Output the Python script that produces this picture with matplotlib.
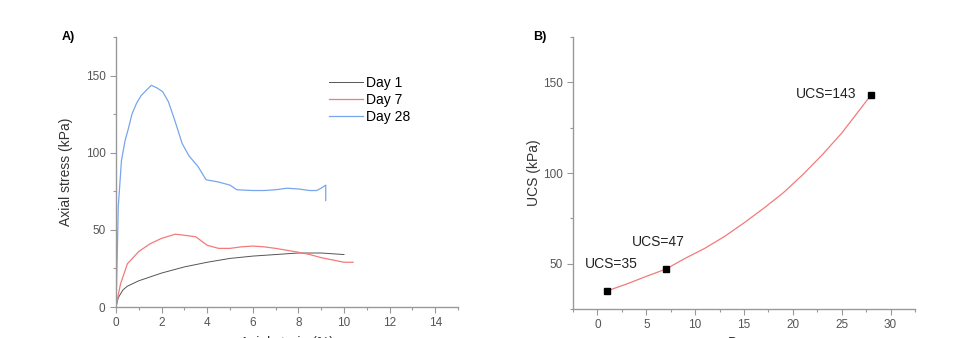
import matplotlib
matplotlib.use("Agg")
import matplotlib.pyplot as plt
from matplotlib.ticker import MultipleLocator

plt.rcParams["font.family"] = ["Liberation Sans", "DejaVu Sans"]

# Panel A: stress-strain curves
day1_x = [0, 0.1, 0.3, 0.5, 1, 1.5, 2, 3, 4, 5, 6, 7, 8, 9, 10]
day1_y = [0, 6, 11, 13.5, 17, 19.5, 22, 26, 29, 31.5, 33, 34, 35, 35, 34]
day7_x = [0, 0.1, 0.2, 0.5, 1, 1.5, 2, 2.6, 3, 3.5, 4, 4.5, 5, 5.5, 6, 6.5, 7,
          8, 8.5, 9, 10, 10.4]
day7_y = [0, 8, 15, 28, 36, 41, 44.5, 47.2, 46.5, 45.5, 40, 38, 38, 39, 39.5, 39,
          38, 35.5, 34, 32, 29, 29]
day28_x = [0, 0.05, 0.1, 0.24, 0.4, 0.55, 0.7, 0.9, 1.1, 1.3, 1.55, 1.8, 2.05,
           2.3, 2.6, 2.9, 3.2, 3.6, 3.95, 4.5, 5, 5.3, 6, 6.5, 7, 7.5, 8, 8.5,
           8.8, 9.0, 9.2, 9.2]
day28_y = [0, 30, 65, 95, 108, 116, 125, 132, 137, 140, 143.7, 142, 139.5, 133,
           120, 106, 98, 91, 82.5, 81, 79, 76, 75.5, 75.5, 76, 77, 76.5, 75.5,
           75.5, 77, 79, 69]

# Panel B: UCS vs curing days
days = [1, 7, 28]
ucs = [35, 47, 143]
ucs_labels = ["UCS=35", "UCS=47", "UCS=143"]
fit_x = [1, 3, 5, 7, 9, 11, 13, 15, 17, 19, 21, 23, 25, 27, 28]
fit_y = [35, 38.8, 43, 47, 53, 58.5, 65, 72.5, 80.5, 89, 99, 110, 122, 136, 143]

tick_col = "#555555"
axis_col = "#999999"

fig = plt.figure(figsize=(9.65, 3.38), dpi=100)
ax1 = fig.add_axes([0.1202, 0.0917, 0.3544, 0.7988])
ax2 = fig.add_axes([0.5938, 0.0858, 0.3544, 0.8047])

for ax in (ax1, ax2):
    for s in ("top", "right"):
        ax.spines[s].set_visible(False)
    for s in ("left", "bottom"):
        ax.spines[s].set_color(axis_col)
        ax.spines[s].set_linewidth(1.0)
    ax.tick_params(which="major", direction="out", length=4, width=0.8,
                   color=axis_col, labelsize=8.5, labelcolor=tick_col)
    ax.tick_params(which="minor", direction="out", length=2.5, width=0.8,
                   color=axis_col)

# A
ax1.plot(day1_x, day1_y, color="#555555", lw=0.7, label="Day 1")
ax1.plot(day7_x, day7_y, color="#f47a7a", lw=0.9, label="Day 7")
ax1.plot(day28_x, day28_y, color="#78a5ee", lw=0.9, label="Day 28")
ax1.set_xlim(0, 15)
ax1.set_ylim(0, 175)
ax1.xaxis.set_major_locator(MultipleLocator(2))
ax1.xaxis.set_minor_locator(MultipleLocator(1))
ax1.yaxis.set_major_locator(MultipleLocator(50))
ax1.yaxis.set_minor_locator(MultipleLocator(25))
ax1.set_ylabel("Axial stress (kPa)", fontsize=10, color="#333333")
ax1.yaxis.set_label_coords(-0.125, 0.5)
ax1.set_xlabel("Axial strain (%)", fontsize=10, color="#333333")
ax1.xaxis.set_label_coords(0.5, -0.109)
leg = ax1.legend(loc="upper left", bbox_to_anchor=(0.603, 0.88), frameon=False,
                 fontsize=10, handlelength=2.45, handletextpad=0.2,
                 labelspacing=0.2, borderpad=0)
fig.text(0.064, 0.89, "A)", fontsize=9, fontweight="bold", ha="left", va="center")

# B
ax2.plot(fit_x, fit_y, color="#f47a7a", lw=0.9)
ax2.plot(days, ucs, "s", color="black", ms=4)
label_pos = [(-1.3, 50), (3.5, 62), (20.3, 143.4)]
for (tx, ty), txt in zip(label_pos, ucs_labels):
    ax2.text(tx, ty, txt, fontsize=10, ha="left", va="center", color="#222222")
ax2.set_xlim(-2.5, 32.5)
ax2.set_ylim(25, 175)
ax2.xaxis.set_major_locator(MultipleLocator(5))
ax2.xaxis.set_minor_locator(MultipleLocator(2.5))
ax2.yaxis.set_major_locator(MultipleLocator(50))
ax2.yaxis.set_minor_locator(MultipleLocator(25))
ax2.set_ylabel("UCS (kPa)", fontsize=10, color="#333333")
ax2.yaxis.set_label_coords(-0.093, 0.5)
ax2.set_xlabel("Days", fontsize=10, color="#333333")
ax2.xaxis.set_label_coords(0.5, -0.10)
fig.text(0.552, 0.89, "B)", fontsize=9, fontweight="bold", ha="left", va="center")

fig.savefig("out.png", dpi=100)
